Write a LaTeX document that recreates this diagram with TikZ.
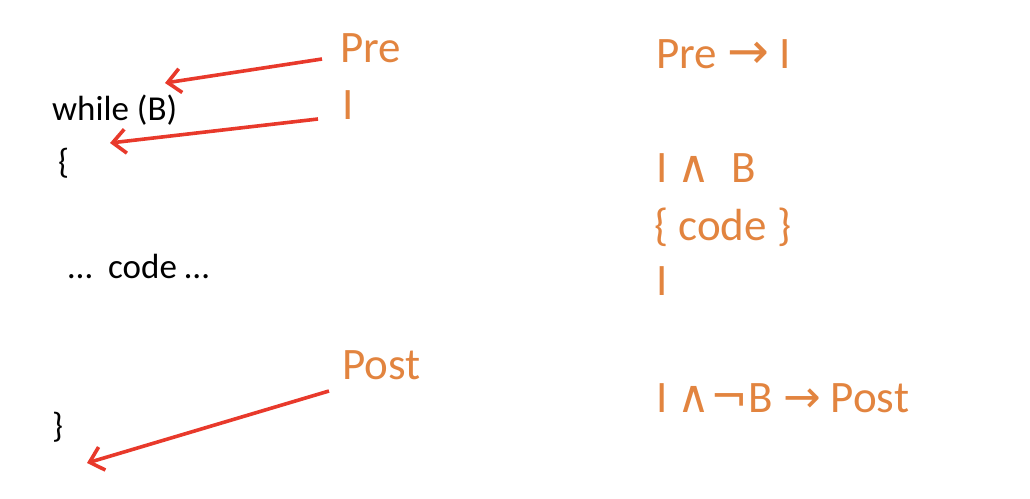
\documentclass[tikz,border=0pt]{standalone}
\usepackage{fontspec}
\setmainfont{Carlito}
\newfontfamily\symf{DejaVu Sans}
\usetikzlibrary{arrows.meta}
\definecolor{orng}{HTML}{E2843F}
\definecolor{redarr}{HTML}{E8392B}
\begin{document}
\begin{tikzpicture}[x=1pt,y=-1pt,
  otext/.style={inner sep=0pt,anchor=base west,text=orng,font=\fontsize{45}{54}\selectfont},
  ctext/.style={inner sep=0pt,anchor=base west,text=black,font=\fontsize{35}{42}\selectfont},
  ptr/.style={draw=redarr,line width=3.6pt,-{Straight Barb[length=13pt,width=24pt,line width=3.6pt]}}]
\path[use as bounding box] (0,0) rectangle (1030,498);
% code
\node[ctext] (while) at (52,120) {while (B)};
\node[ctext] (lb) at (58,173) {\{};
\node[ctext] (code) at (68,278) {…\ \ code …};
\node[ctext] (rb) at (52,437) {\}};
% labels
\node[otext] (pre) at (340,62) {Pre};
\node[otext] (inv) at (342,119) {I};
\node[otext] (post) at (342,379) {Post};
% right column
\node[otext] (r1) at (656,68) {Pre {\symf \fontsize{50}{54}\selectfont →} I};
\node[otext] (r2) at (656,182) {I {\symf ∧}\ \ B};
\node[otext] (r3) at (654,240) {\{ code \}};
\node[otext] (r4) at (656,295) {I};
\node[otext] (r5) at (656,412) {I {\symf ∧¬}B {\symf →} Post};
% arrows
\coordinate (a1s) at (322,59);
\coordinate (a1e) at (165,83);
\coordinate (a2s) at (318,119);
\coordinate (a2e) at (110,143);
\coordinate (a3s) at (329,391);
\coordinate (a3e) at (87,463);
\draw[ptr] (a1s) -- (a1e);
\draw[ptr] (a2s) -- (a2e);
\draw[ptr] (a3s) -- (a3e);
\end{tikzpicture}
\end{document}
